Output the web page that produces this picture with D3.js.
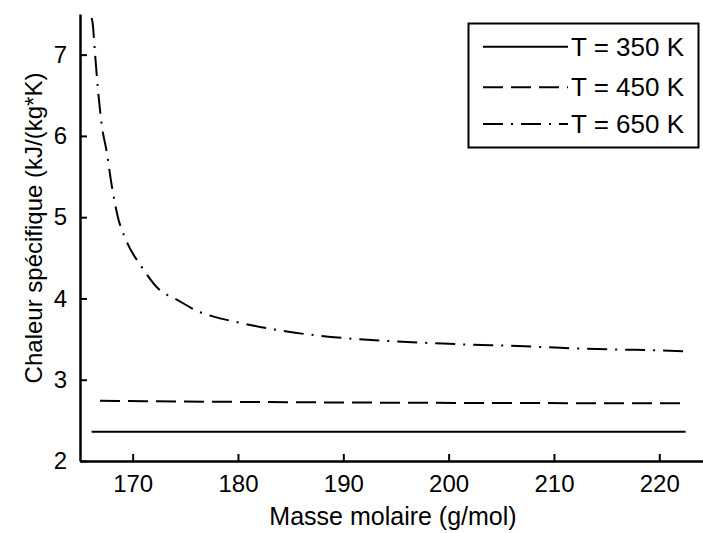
<!DOCTYPE html>
<html>
<head>
<meta charset="utf-8">
<script src="https://cdn.jsdelivr.net/npm/d3@7"></script>
<style>
  body { margin: 0; background: #fff; }
  svg { font-family: "Liberation Sans", Arial, sans-serif; }
</style>
</head>
<body>
<svg id="chart" width="703" height="533"></svg>
<script>
// values
const X_TICKS = [170, 180, 190, 200, 210, 220];
const Y_TICKS = [2, 3, 4, 5, 6, 7];

const X_350 = [166.1, 222.5];
const Y_350 = [2.36, 2.36];

const X_450 = [166.9, 190, 222.0];
const Y_450 = [2.74, 2.72, 2.71];

const X_650 = [166.1, 166.2, 166.4, 166.7, 167.1, 167.5, 168.0, 168.6, 169.4, 170.9, 172.6, 174.0,
  176.4, 177.6, 180.2, 184.3, 187.8, 191.3, 195.1, 198.5, 202.3, 205.5, 209.3, 213.1, 216.6, 220.3, 222.3];
const Y_650 = [7.45, 7.39, 7.06, 6.58, 6.10, 5.83, 5.40, 5.00, 4.71, 4.38, 4.10, 4.00,
  3.83, 3.78, 3.70, 3.60, 3.54, 3.50, 3.47, 3.45, 3.43, 3.42, 3.40, 3.38, 3.37, 3.36, 3.35];

const LABELS = ['T = 350 K', 'T = 450 K', 'T = 650 K'];

const svg = d3.select('#chart');
const PLOT_L = 80, PLOT_R = 703, PLOT_T = 14, PLOT_B = 461;

const x = d3.scaleLinear().domain([165, 224.15]).range([PLOT_L, PLOT_R]);
const y = d3.scaleLinear().domain([2, 7.5]).range([PLOT_B, PLOT_T]);

// series, each with its own dash style
const series = [
  { xs: X_350, ys: Y_350, dash: null },
  { xs: X_450, ys: Y_450, dash: '20,8' },
  { xs: X_650, ys: Y_650, dash: '20,8,2,8' }
];

const line = d3.line()
  .x(d => x(d[0]))
  .y(d => y(d[1]))
  .curve(d3.curveMonotoneX);

svg.selectAll('path.serie')
  .data(series)
  .enter().append('path')
  .attr('class', 'serie')
  .attr('d', s => line(d3.zip(s.xs, s.ys)))
  .attr('fill', 'none')
  .attr('stroke', '#000')
  .attr('stroke-width', 2)
  .attr('stroke-dasharray', s => s.dash);

// axes, ticks pointing inward like matlab
const xAxis = svg.append('g')
  .attr('transform', `translate(0,${PLOT_B})`)
  .call(d3.axisBottom(x).tickValues(X_TICKS).tickFormat(d3.format('d'))
    .tickSizeInner(-7).tickSizeOuter(0).tickPadding(14));
const yAxis = svg.append('g')
  .attr('transform', `translate(${PLOT_L},0)`)
  .call(d3.axisLeft(y).tickValues(Y_TICKS).tickFormat(d3.format('d'))
    .tickSizeInner(-7).tickSizeOuter(0).tickPadding(13));

[xAxis, yAxis].forEach(function(a) {
  a.select('.domain').attr('stroke', '#000').attr('stroke-width', 2.5);
  a.selectAll('.tick line').attr('stroke', '#000').attr('stroke-width', 2);
  a.selectAll('.tick text')
    .attr('fill', '#000')
    .style('font-size', '24px')
    .style('font-family', '"Liberation Sans", Arial, sans-serif');
});

// axis titles
svg.append('text')
  .attr('x', 393)
  .attr('y', 525)
  .attr('text-anchor', 'middle')
  .style('font-size', '25px')
  .text('Masse molaire (g/mol)');

svg.append('text')
  .attr('transform', 'translate(42,228) rotate(-90)')
  .attr('text-anchor', 'middle')
  .style('font-size', '24px')
  .text('Chaleur spécifique (kJ/(kg*K)');

// legend
const legend = svg.append('g');
legend.append('rect')
  .attr('x', 468.5).attr('y', 23.5)
  .attr('width', 230).attr('height', 124)
  .attr('fill', '#fff')
  .attr('stroke', '#000')
  .attr('stroke-width', 2);

const rowY = [46.7, 87.3, 124];
const item = legend.selectAll('g.item')
  .data(series)
  .enter().append('g')
  .attr('class', 'item')
  .attr('transform', (d, i) => `translate(0,${rowY[i]})`);

item.append('line')
  .attr('x1', 483).attr('x2', 568)
  .attr('stroke', '#000')
  .attr('stroke-width', 2)
  .attr('stroke-dasharray', d => d.dash);

item.append('text')
  .attr('x', 571)
  .attr('dy', '0.35em')
  .style('font-size', '26px')
  .text((d, i) => LABELS[i]);
</script>
</body>
</html>
